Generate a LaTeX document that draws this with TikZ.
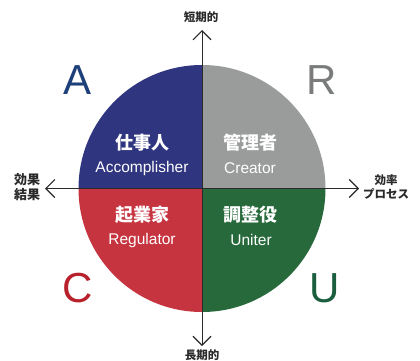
\documentclass[tikz,border=0pt]{standalone}
\usepackage{fontspec}
\setmainfont{Liberation Sans}
\newfontfamily\jp{Noto Sans CJK JP}
\usetikzlibrary{arrows.meta}
\definecolor{qblue}{HTML}{2F357E}
\definecolor{qgray}{HTML}{9A9C9C}
\definecolor{qred}{HTML}{C6343F}
\definecolor{qgreen}{HTML}{27693B}
\definecolor{lblue}{HTML}{1D3F7A}
\definecolor{lgray}{HTML}{7A7C7C}
\definecolor{lred}{HTML}{B8202C}
\definecolor{lgreen}{HTML}{1A5E3E}
\definecolor{axisc}{HTML}{2A2A2A}
\tikzset{
  axis/.style={draw=axisc, line width=1pt, -{Straight Barb[length=9pt,width=18pt,line width=1.1pt]}},
  jpname/.style={text=white, font=\jp\bfseries\fontsize{18}{20}\selectfont, inner sep=0pt},
  enname/.style={text=white, font=\fontsize{15.5}{17}\selectfont, inner sep=0pt},
  bigletter/.style={font=\fontsize{42}{44}\selectfont, inner sep=0pt},
  axlabel/.style={text=axisc, font=\jp\bfseries\fontsize{11.5}{14}\selectfont, inner sep=0pt, align=center}
}
\begin{document}
\begin{tikzpicture}[x=1pt,y=-1pt]
\useasboundingbox (0,0) rectangle (420,361);
\fill[white] (0,0) rectangle (420,361);
\coordinate (c) at (202,188.5);
\begin{scope}
  \clip (c) circle[radius=123.5pt];
  \fill[qblue] (70,55) rectangle (c);
  \fill[qgray] (334,55) rectangle (c);
  \fill[qred] (70,320) rectangle (c);
  \fill[qgreen] (334,320) rectangle (c);
\end{scope}
\coordinate (bot) at (202,346);
\coordinate (top) at (202,30);
\coordinate (lft) at (45,188.5);
\coordinate (rgt) at (359,188.5);
\draw[axis] (c) -- (top);
\draw[axis] (c) -- (bot);
\draw[axis] (c) -- (lft);
\draw[axis] (c) -- (rgt);
\node[axlabel] (tl) at (201,17) {短期的};
\node[axlabel] (bl) at (202,355) {長期的};
\node[axlabel, font=\jp\bfseries\fontsize{13}{15}\selectfont] (ll) at (27,187) {効果\\結果};
\node[axlabel] (rl) at (386,187) {効率\\プロセス};
\node[bigletter, text=lblue] (A) at (78,80) {A};
\node[bigletter, text=lgray] (R) at (322,80) {R};
\node[bigletter, text=lred] (C) at (78,288) {C};
\node[bigletter, text=lgreen] (U) at (325,288) {U};
\node[jpname] (j1) at (142,143) {仕事人};
\node[enname] (e1) at (142,168) {Accomplisher};
\node[jpname] (j2) at (250,143) {管理者};
\node[enname] (e2) at (250,168) {Creator};
\node[jpname] (j3) at (142,215) {起業家};
\node[enname] (e3) at (142,240) {Regulator};
\node[jpname] (j4) at (250,215) {調整役};
\node[enname] (e4) at (251,240) {Uniter};
\end{tikzpicture}
\end{document}
